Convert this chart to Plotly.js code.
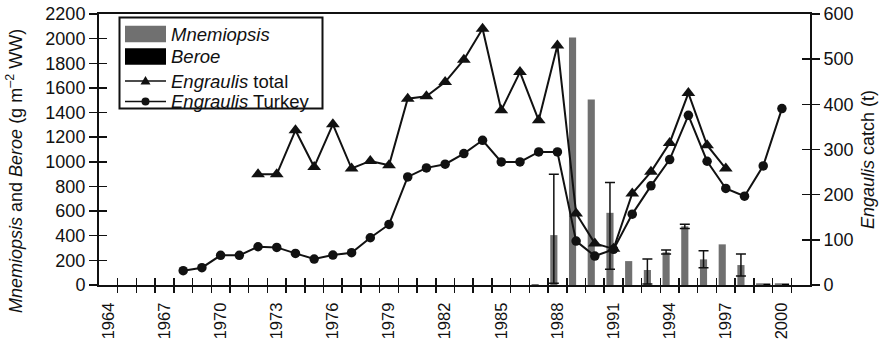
<!DOCTYPE html>
<html>
<head>
<meta charset="utf-8">
<script src="https://cdn.plot.ly/plotly-3.0.1.min.js"></script>
<style>html,body{margin:0;padding:0;background:#fff;}#chart{width:887px;height:344px;}</style>
</head>
<body>
<div id="chart"></div>
<script>
// ---- data ----
const labelYears = [1964, 1967, 1970, 1973, 1976, 1979, 1982, 1985, 1988, 1991, 1994, 1997, 2000];
const allYears = [1964,1965,1966,1967,1968,1969,1970,1971,1972,1973,1974,1975,1976,1977,1978,1979,1980,1981,1982,1983,1984,1985,1986,1987,1988,1989,1990,1991,1992,1993,1994,1995,1996,1997,1998,1999,2000];

const barYears = [1987, 1988, 1989, 1990, 1991, 1992, 1993, 1994, 1995, 1996, 1997, 1998, 1999, 2000];
const mnemiopsis = [8, 405, 2010, 1505, 586, 194, 122, 265, 476, 208, 330, 162, 14, 14];
const mnemErrPlus = [NaN, 495, NaN, NaN, 246, NaN, 89, 19, 18, 70, NaN, 89, NaN, NaN];
const mnemErrMinus = [NaN, 391, NaN, NaN, 459, NaN, 114, 14, 17, 68, NaN, 89, NaN, NaN];
const beroe = [0, 0, 0, 0, 0, 0, 0, 0, 0, 0, 0, 0, 12, 12];

const totalYears = [1972,1973,1974,1975,1976,1977,1978,1979,1980,1981,1982,1983,1984,1985,1986,1987,1988,1989,1990,1991,1992,1993,1994,1995,1996,1997];
const engraulisTotal = [245,245,342.5,261.4,355.8,257.9,274.7,265.2,412.6,417.7,449.3,498.8,567.3,386.7,471.4,364.6,530.4,158.4,92.1,80,202.6,250.5,314.5,425,309.4,257.9];

const turkeyYears = [1968,1969,1970,1971,1972,1973,1974,1975,1976,1977,1978,1979,1980,1981,1982,1983,1984,1985,1986,1987,1988,1989,1990,1991,1992,1993,1994,1995,1996,1997,1998,1999,2000];
const engraulisTurkey = [31.6,38.3,65.6,65.6,84.7,83.2,70,57.5,66.3,71.5,104.6,134,239.3,259.3,267.4,291,320.4,272.5,272.5,294.6,294.6,97.2,64.1,78.9,156.9,219.5,277.7,375.7,274,213.7,196.7,263.7,390.5];

const legendNames = ['<i>Mnemiopsis</i>', '<i>Beroe</i>', '<i>Engraulis</i> total', '<i>Engraulis</i> Turkey'];

// ---- layout geometry ----
const W = 887, H = 344;
const M = {l: 99, r: 77, t: 14, b: 59};
const PW = W - M.l - M.r, PH = H - M.t - M.b;
const px2x = p => (p - M.l) / PW;
const py2y = p => (H - M.b - p) / PH;

const FONT = 'Liberation Sans, Arial, Helvetica, sans-serif';
const INK = '#111';
const GREY = '#707070';
const xRange = [allYears[0] - 0.5, allYears[allYears.length - 1] + 1.5];
const boundaries = allYears.map(y => y + 0.5);

const traces = [
  {
    type: 'bar', x: barYears, y: mnemiopsis, name: 'Mnemiopsis',
    marker: {color: GREY, line: {width: 0}},
    error_y: {type: 'data', symmetric: false, array: mnemErrPlus, arrayminus: mnemErrMinus,
              color: INK, thickness: 1.5, width: 5},
    xaxis: 'x', yaxis: 'y', showlegend: false, hoverinfo: 'skip'
  },
  {
    type: 'bar', x: barYears, y: beroe, name: 'Beroe',
    marker: {color: '#000', line: {width: 0}},
    xaxis: 'x', yaxis: 'y', showlegend: false, hoverinfo: 'skip'
  },
  {
    type: 'scatter', mode: 'lines+markers', x: totalYears, y: engraulisTotal, name: 'Engraulis total',
    line: {color: INK, width: 2}, marker: {symbol: 'triangle-up', size: 12, color: INK},
    xaxis: 'x', yaxis: 'y2', showlegend: false, hoverinfo: 'skip', cliponaxis: false
  },
  {
    type: 'scatter', mode: 'lines+markers', x: turkeyYears, y: engraulisTurkey, name: 'Engraulis Turkey',
    line: {color: INK, width: 2}, marker: {symbol: 'circle', size: 9.5, color: INK},
    xaxis: 'x', yaxis: 'y2', showlegend: false, hoverinfo: 'skip', cliponaxis: false
  }
];

const tickFontY = {family: FONT, size: 18, color: INK};
const tickFontX = {family: FONT, size: 16.5, color: INK};

// legend drawn as shapes + annotations
const lgX0 = 119.5, lgX1 = 322.5, lgY0 = 17.5, lgY1 = 108.5;
const swX0 = 125, swX1 = 166, rowY = [34, 56.5, 81, 101.5];
const shapes = [
  {type: 'rect', xref: 'paper', yref: 'paper', x0: px2x(lgX0), x1: px2x(lgX1), y0: py2y(lgY1), y1: py2y(lgY0),
   line: {color: INK, width: 2}, fillcolor: '#fff', layer: 'above'},
  {type: 'rect', xref: 'paper', yref: 'paper', x0: px2x(swX0), x1: px2x(swX1), y0: py2y(rowY[0] + 8.3), y1: py2y(rowY[0] - 8.3),
   line: {width: 0}, fillcolor: GREY, layer: 'above'},
  {type: 'rect', xref: 'paper', yref: 'paper', x0: px2x(swX0), x1: px2x(swX1), y0: py2y(rowY[1] + 8.3), y1: py2y(rowY[1] - 8.3),
   line: {width: 0}, fillcolor: '#000', layer: 'above'},
  {type: 'line', xref: 'paper', yref: 'paper', x0: px2x(swX0), x1: px2x(swX1), y0: py2y(rowY[2]), y1: py2y(rowY[2]),
   line: {color: INK, width: 1.5}, layer: 'above'},
  {type: 'line', xref: 'paper', yref: 'paper', x0: px2x(swX0), x1: px2x(swX1), y0: py2y(rowY[3]), y1: py2y(rowY[3]),
   line: {color: INK, width: 1.5}, layer: 'above'},
  {type: 'path', xref: 'paper', yref: 'paper', xsizemode: 'pixel', ysizemode: 'pixel',
   xanchor: px2x((swX0 + swX1) / 2), yanchor: py2y(rowY[2]),
   path: 'M-5,-3.5 L5,-3.5 L0,5 Z', fillcolor: INK, line: {width: 0}, layer: 'above'},
  {type: 'circle', xref: 'paper', yref: 'paper', xsizemode: 'pixel', ysizemode: 'pixel',
   xanchor: px2x((swX0 + swX1) / 2), yanchor: py2y(rowY[3]),
   x0: -4, x1: 4, y0: -4, y1: 4, fillcolor: INK, line: {width: 0}, layer: 'above'}
];

const annotations = legendNames.map((t, i) => ({
  xref: 'paper', yref: 'paper', x: px2x(169), y: py2y(rowY[i]), xanchor: 'left', yanchor: 'middle',
  text: t, showarrow: false, font: {family: FONT, size: 18.5, color: INK}
}));
annotations.push({
  xref: 'paper', yref: 'paper', x: px2x(15), y: py2y(171), xanchor: 'center', yanchor: 'middle',
  textangle: -90, showarrow: false,
  text: '<i>Mnemiopsis</i> and <i>Beroe</i> (g m<sup>–2</sup> WW)',
  font: {family: FONT, size: 18, color: INK}
});
annotations.push({
  xref: 'paper', yref: 'paper', x: px2x(868), y: py2y(160), xanchor: 'center', yanchor: 'middle',
  textangle: -90, showarrow: false,
  text: '<i>Engaulis</i> catch (t)',
  font: {family: FONT, size: 18, color: INK}
});

const layout = {
  width: W, height: H,
  margin: M,
  paper_bgcolor: '#fff', plot_bgcolor: '#fff',
  showlegend: false,
  barmode: 'group', bargap: 0.236, bargroupgap: 0,
  xaxis: {
    range: xRange, tickmode: 'array', tickvals: labelYears, ticktext: labelYears.map(String),
    tickangle: -90, ticks: 'outside', ticklen: 9, tickcolor: 'rgba(0,0,0,0)', tickfont: tickFontX,
    showgrid: false, zeroline: false, showline: true, linecolor: INK, linewidth: 2, mirror: true,
    anchor: 'y'
  },
  xaxis2: {
    overlaying: 'x', matches: 'x', range: xRange, tickmode: 'array', tickvals: boundaries,
    ticks: 'outside', ticklen: 7, tickwidth: 1.5, tickcolor: INK, showticklabels: false,
    showgrid: false, zeroline: false, showline: false, anchor: 'y', side: 'bottom'
  },
  xaxis3: {
    overlaying: 'x', matches: 'x', range: xRange, tickmode: 'array', tickvals: boundaries,
    ticks: 'inside', ticklen: 7, tickwidth: 1.5, tickcolor: INK, showticklabels: false,
    showgrid: false, zeroline: false, showline: false, anchor: 'y', side: 'bottom'
  },
  yaxis: {
    range: [0, 2200], dtick: 200, tick0: 0, ticks: 'outside', ticklen: 8, tickwidth: 1.5, tickcolor: INK,
    tickfont: tickFontY, showgrid: false, zeroline: false, showline: true, linecolor: INK, linewidth: 2,
    anchor: 'x', side: 'left'
  },
  yaxis3: {
    overlaying: 'y', range: [0, 2200], dtick: 200, tick0: 0, ticks: 'inside', ticklen: 8, tickwidth: 1.5,
    tickcolor: INK, showticklabels: false, showgrid: false, zeroline: false, showline: false,
    anchor: 'x', side: 'left'
  },
  yaxis2: {
    overlaying: 'y', range: [0, 600], dtick: 100, tick0: 0, ticks: 'outside', ticklen: 8, tickwidth: 1.5,
    tickcolor: INK, tickfont: tickFontY, showgrid: false, zeroline: false, showline: true, linecolor: INK,
    linewidth: 2, anchor: 'x', side: 'right'
  },
  yaxis4: {
    overlaying: 'y', range: [0, 600], dtick: 100, tick0: 0, ticks: 'inside', ticklen: 8, tickwidth: 1.5,
    tickcolor: INK, showticklabels: false, showgrid: false, zeroline: false, showline: false,
    anchor: 'x', side: 'right'
  },
  shapes: shapes,
  annotations: annotations
};

// empty traces so the tick-only overlay axes render
traces.push({type: 'scatter', x: [], y: [], xaxis: 'x2', yaxis: 'y3', showlegend: false, hoverinfo: 'skip'});
traces.push({type: 'scatter', x: [], y: [], xaxis: 'x3', yaxis: 'y4', showlegend: false, hoverinfo: 'skip'});

Plotly.newPlot('chart', traces, layout, {staticPlot: true, displayModeBar: false});
</script>
</body>
</html>
